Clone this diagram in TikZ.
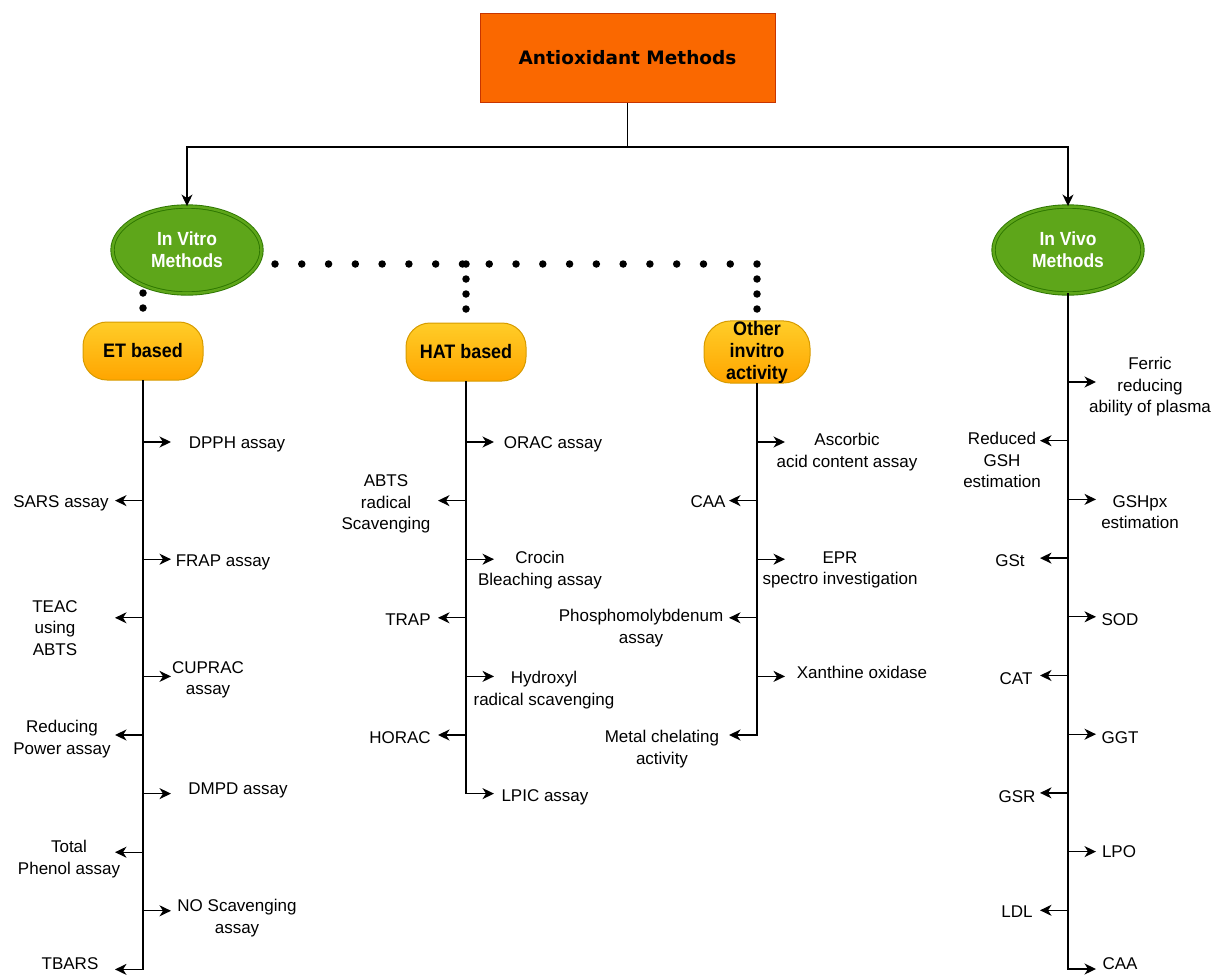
\documentclass[tikz,border=0pt]{standalone}
\usepackage{fontspec}
\setmainfont{Liberation Sans}
\newfontfamily\titlefont{DejaVu Sans}
\newfontfamily\headfont[FakeStretch=0.92]{Liberation Sans}
\usetikzlibrary{shapes.geometric, arrows.meta}
\definecolor{titlefill}{HTML}{FA6800}
\definecolor{titledraw}{HTML}{C73500}
\definecolor{methodfill}{HTML}{5EA61A}
\definecolor{methoddraw}{HTML}{2D7600}
\definecolor{goldtop}{HTML}{FFCD28}
\definecolor{goldbottom}{HTML}{FFA500}
\definecolor{golddraw}{HTML}{D79B00}
\tikzset{
	every text node part/.style= {
		align=center
	},
	titlebox/.style= {
		rectangle,
		draw=titledraw,
		fill=titlefill,
		line width=1pt,
		minimum width=295pt,
		minimum height=88pt,
		font=\titlefont\bfseries\fontsize{18.5}{22}\selectfont
	},
	method/.style= {
		ellipse,
		draw=methoddraw,
		fill=methodfill,
		double=methodfill,
		double distance=2.5pt,
		line width=0.9pt,
		minimum width=149pt,
		minimum height=87pt,
		inner sep=0pt,
		text=white,
		font=\headfont\bfseries\fontsize{19}{22}\selectfont
	},
	group/.style= {
		rectangle,
		rounded corners=24pt,
		draw=golddraw,
		line width=1pt,
		top color=goldtop,
		bottom color=goldbottom,
		minimum width=120pt,
		minimum height=58pt,
		inner sep=0pt,
		font=\headfont\bfseries\fontsize{19.5}{22}\selectfont
	},
	item/.style= {
		inner sep=0pt,
		font=\fontsize{17}{21.5}\selectfont
	},
	line/.style= {
		line width=1.3pt,
		line cap=rect
	},
	arr/.style= {
		line width=1.3pt,
		-{Stealth[length=11.5pt, width=11pt, inset=3.5pt]}
	},
	hdots/.style= {
		line width=7.5pt,
		line cap=round,
		dash pattern=on 0pt off 26.78pt
	},
	vdots/.style= {
		line width=7.5pt,
		line cap=round,
		dash pattern=on 0pt off 15pt
	}
}

\begin{document}
\begin{tikzpicture}[x=1pt, y=-1pt]

	\useasboundingbox (0,0) rectangle (1217,974);

	\node (title)[titlebox] at (627.5,58) {Antioxidant Methods};
	\node (vitro)[method] at (187,250) {In Vitro\\Methods};
	\node (vivo)[method] at (1068,250) {In Vivo\\Methods};

	\node (et)[group] at (143,351) {ET based};
	\node (hat)[group] at (466,352) {HAT based};
	\node (other)[group, minimum width=106pt, minimum height=59pt, rounded corners=27pt] at (757,352) {Other\\invitro\\activity};

	% top split
	\coordinate (split) at (627.5,147);
	\draw[arr] (title.south) -- (split) -| (vitro.north);
	\draw[arr] (split) -| (vivo.north);

	% dotted links
	\coordinate (etdot) at (143,293);
	\coordinate (hdot) at (275,264);
	\draw[vdots, shorten >=11pt] (etdot) -- (et.north);
	\draw[hdots] (hdot) -- (hdot -| other);
	\draw[vdots, shorten >=11pt] (hdot -| hat) -- (hat.north);
	\draw[vdots, shorten >=11pt] (hdot -| other) -- (other.north);

	% ET based
	\foreach[count=\i from 1] \s/\lx/\ly/\txt in {
		1/237/444/DPPH assay,
		-1/61/503/SARS assay,
		1/223/562/FRAP assay,
		-1/55/628/TEAC\\using\\ABTS,
		1/208/680/CUPRAC\\assay,
		-1/62/739/Reducing\\Power assay,
		1/238/790/DMPD assay,
		-1/69/859/Total\\Phenol assay,
		1/237/918/NO Scavenging\\assay,
		-1/70/964/TBARS}
	{
		\coordinate (etb\i) at (143, {442+58.6*(\i-1)});
		\coordinate (ett\i) at ({143+28*\s}, {442+58.6*(\i-1)});
		\node (etl\i)[item] at (\lx,\ly) {\txt};
		\draw[arr] (etb\i) -- (ett\i);
	}
	\draw[line] (et.south) -- (etb10);

	% HAT based
	\foreach[count=\i from 1] \s/\lx/\ly/\txt in {
		1/553/444/ORAC assay,
		-1/386/504/ABTS\\radical\\Scavenging,
		1/540/570/Crocin\\Bleaching assay,
		-1/408/620/TRAP,
		1/544/690/Hydroxyl\\radical scavenging,
		-1/400/738/HORAC,
		1/545/797/LPIC assay}
	{
		\coordinate (hatb\i) at (466, {442+58.6*(\i-1)});
		\coordinate (hatt\i) at ({466+28*\s}, {442+58.6*(\i-1)});
		\node (hatl\i)[item] at (\lx,\ly) {\txt};
		\draw[arr] (hatb\i) -- (hatt\i);
	}
	\draw[line] (hat.south) -- (hatb7);

	% other invitro activity
	\foreach[count=\i from 1] \s/\lx/\ly/\txt in {
		1/847/452/Ascorbic\\acid content assay,
		-1/708/502/CAA,
		1/840/570/EPR\\spectro investigation,
		-1/641/628/Phosphomolybdenum\\assay,
		1/862/672/Xanthine oxidase,
		-1/662/749/Metal chelating\\activity}
	{
		\coordinate (othb\i) at (757, {442+58.6*(\i-1)});
		\coordinate (otht\i) at ({757+28*\s}, {442+58.6*(\i-1)});
		\node (othl\i)[item] at (\lx,\ly) {\txt};
		\draw[arr] (othb\i) -- (otht\i);
	}
	\draw[line] (other.south) -- (othb6);

	% in vivo
	\foreach[count=\i from 1] \s/\lx/\ly/\txt in {
		1/1150/387/Ferric\\reducing\\ability of plasma,
		-1/1002/460/Reduced\\GSH\\estimation,
		1/1140/512/GSHpx\\estimation,
		-1/1010/561/GSt,
		1/1120/620/SOD,
		-1/1016/679/CAT,
		1/1120/738/GGT,
		-1/1017/797/GSR,
		1/1119/852/LPO,
		-1/1017/912/LDL,
		1/1120/964/CAA}
	{
		\coordinate (vivb\i) at (1068, {382+58.7*(\i-1)});
		\coordinate (vivt\i) at ({1068+28*\s}, {382+58.7*(\i-1)});
		\node (vivl\i)[item] at (\lx,\ly) {\txt};
		\draw[arr] (vivb\i) -- (vivt\i);
	}
	\draw[line] (vivo.south) -- (vivb11);

\end{tikzpicture}
\end{document}
